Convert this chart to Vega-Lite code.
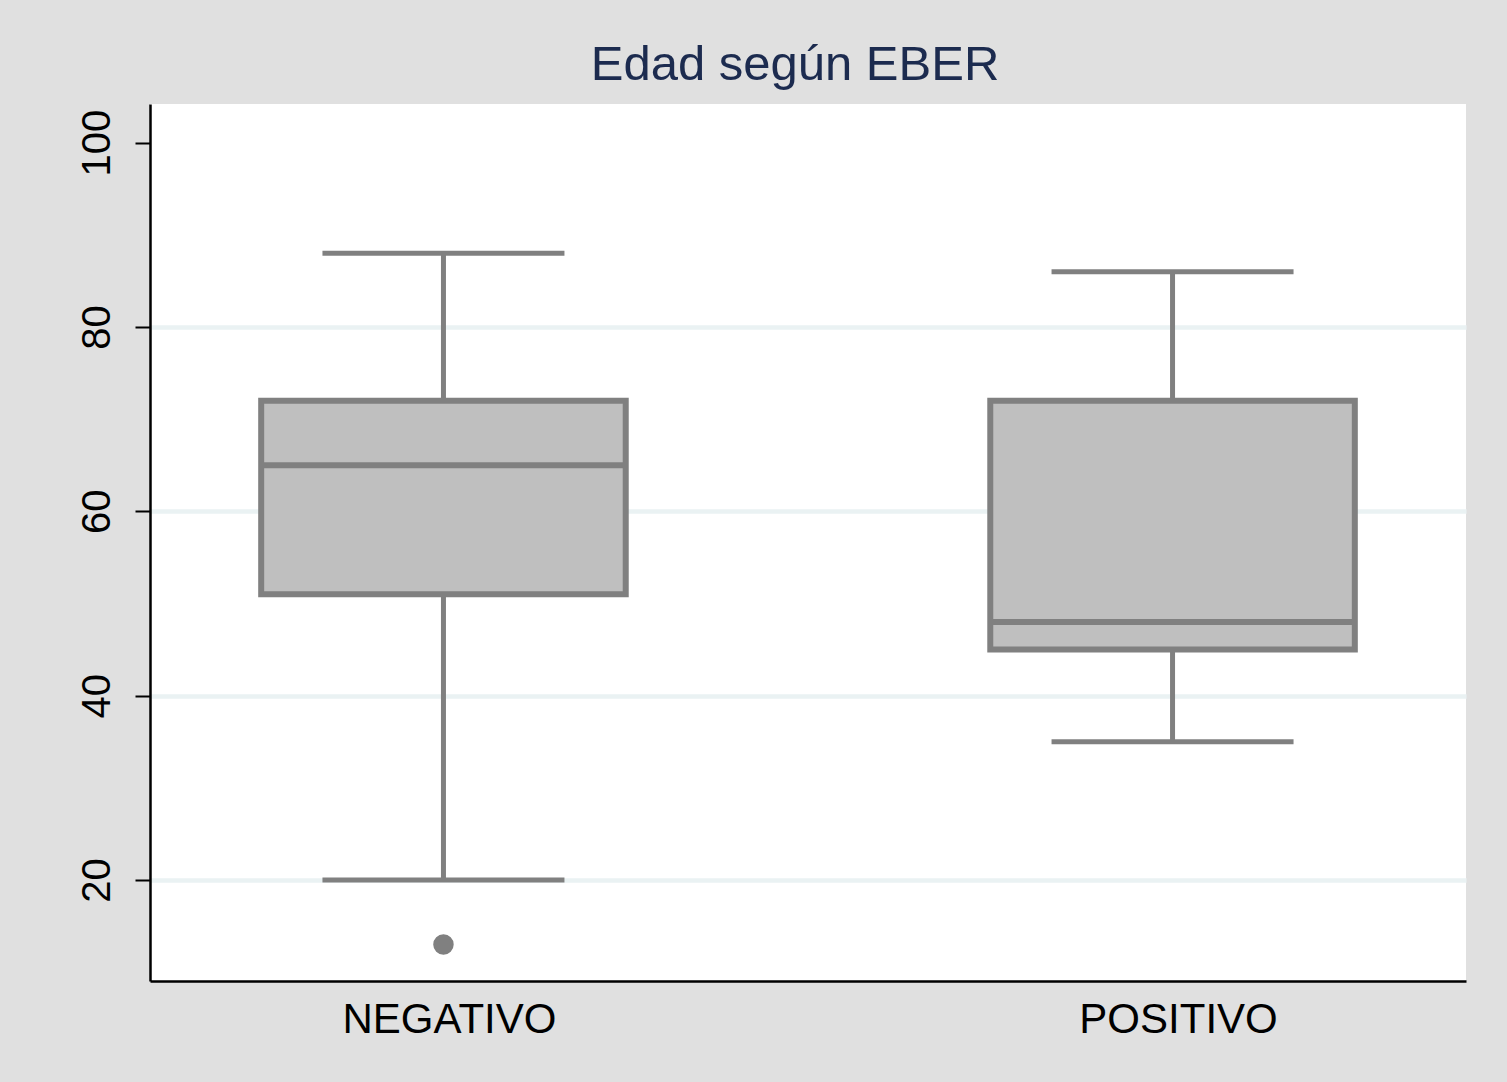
{
  "$schema": "https://vega.github.io/schema/vega-lite/v6.json",
  "width": 1316,
  "height": 877,
  "autosize": {"type": "none"},
  "padding": {"left": 150, "top": 104, "right": 41, "bottom": 101},
  "background": "#e0e0e0",
  "config": {
    "view": {"fill": "white", "stroke": null},
    "font": "Liberation Sans"
  },
  "title": {
    "text": "Edad según EBER",
    "font": "Liberation Sans",
    "fontSize": 49,
    "fontWeight": "normal",
    "color": "#1c2b4f",
    "anchor": "middle",
    "baseline": "alphabetic",
    "offset": 22,
    "dx": -13,
    "dy": 47
  },
  "datasets": {
    "boxes": [
      {"grupo": "NEGATIVO", "min": 20, "q1": 51, "mediana": 65, "q3": 72, "max": 88},
      {"grupo": "POSITIVO", "min": 35, "q1": 45, "mediana": 48, "q3": 72, "max": 86}
    ],
    "outliers": [
      {"grupo": "NEGATIVO", "edad": 13}
    ]
  },
  "encoding": {
    "x": {
      "field": "grupo",
      "type": "nominal",
      "scale": {"type": "band", "domain": ["NEGATIVO", "POSITIVO"], "paddingInner": 0.5, "paddingOuter": 0.1525},
      "axis": {
        "title": null,
        "labelAngle": 0,
        "labelFont": "Liberation Sans",
        "labelFontSize": 42,
        "labelColor": "black",
        "labelPadding": 18,
        "labelLimit": 0,
        "labelOffset": 6,
        "ticks": false,
        "domainColor": "black",
        "domainWidth": 2.5
      }
    }
  },
  "layer": [
    {
      "data": {"name": "boxes"},
      "mark": {"type": "rule", "color": "#808080", "strokeWidth": 5},
      "encoding": {
        "y": {
          "field": "min",
          "type": "quantitative",
          "scale": {"domain": [9.04, 104.2], "nice": false, "zero": false},
          "axis": {
            "title": null,
            "values": [20, 40, 60, 80, 100],
            "labelAngle": 270,
            "labelAlign": "center",
            "labelBaseline": "alphabetic",
            "labelFont": "Liberation Sans",
            "labelFontSize": 40,
            "labelColor": "black",
            "labelPadding": 26,
            "tickSize": 15,
            "tickWidth": 2,
            "tickColor": "black",
            "domainColor": "black",
            "domainWidth": 2.5,
            "grid": true,
            "gridColor": "#eaf2f3",
            "gridWidth": 4.5,
            "gridOpacity": {"condition": {"test": "datum.value === 100", "value": 0}, "value": 1}
          }
        },
        "y2": {"field": "q1"}
      }
    },
    {
      "data": {"name": "boxes"},
      "mark": {"type": "rule", "color": "#808080", "strokeWidth": 5},
      "encoding": {
        "y": {"field": "q3", "type": "quantitative"},
        "y2": {"field": "max"}
      }
    },
    {
      "data": {"name": "boxes"},
      "mark": {"type": "tick", "color": "#808080", "size": 242, "thickness": 5, "opacity": 1},
      "encoding": {
        "y": {"field": "min", "type": "quantitative"}
      }
    },
    {
      "data": {"name": "boxes"},
      "mark": {"type": "tick", "color": "#808080", "size": 242, "thickness": 5, "opacity": 1},
      "encoding": {
        "y": {"field": "max", "type": "quantitative"}
      }
    },
    {
      "data": {"name": "boxes"},
      "mark": {"type": "bar", "fill": "#bfbfbf", "stroke": "#808080", "strokeWidth": 6, "opacity": 1},
      "encoding": {
        "y": {"field": "q1", "type": "quantitative"},
        "y2": {"field": "q3"}
      }
    },
    {
      "data": {"name": "boxes"},
      "mark": {"type": "tick", "color": "#808080", "size": 365, "thickness": 6, "opacity": 1},
      "encoding": {
        "y": {"field": "mediana", "type": "quantitative"}
      }
    },
    {
      "data": {"name": "outliers"},
      "mark": {"type": "point", "filled": true, "color": "#808080", "size": 420, "opacity": 1},
      "encoding": {
        "y": {"field": "edad", "type": "quantitative"}
      }
    }
  ]
}
